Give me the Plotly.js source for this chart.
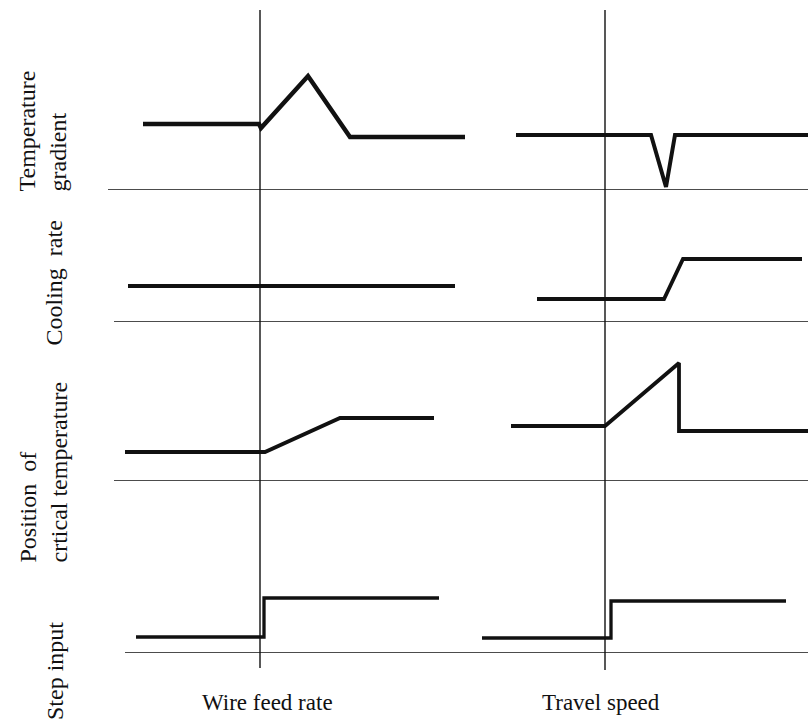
<!DOCTYPE html>
<html>
<head>
<meta charset="utf-8">
<script src="https://cdn.plot.ly/plotly-3.0.1.min.js"></script>
<style>
  html, body { margin: 0; padding: 0; background: #fff; }
  #chart { width: 808px; height: 723px; }
</style>
</head>
<body>
<div id="chart"></div>
<script>
// Step-response sketch: weld-pool responses to a step in wire feed rate (left)
// and in travel speed (right). Time is relative to the step (t = 0).

const inputNames = ["Wire feed rate", "Travel speed"];
const responseNames = [
  "Temperature<br>gradient",
  "Cooling&nbsp; rate",
  "Position&nbsp; of<br>crtical temperature",
  "Step input"
];

// Temperature gradient
const gradWireT = [-5.85, -0.05, 0.05, 2.4, 4.5, 10.25];
const gradWireV = [6.6, 6.6, 6.2, 11.4, 5.3, 5.3];
const gradTravT = [-4.45, 2.3, 3.05, 3.5, 10.15];
const gradTravV = [5.5, 5.5, 0.3, 5.5, 5.5];

// Cooling rate
const coolWireT = [-6.6, 9.75];
const coolWireV = [3.6, 3.6];
const coolTravT = [-3.4, 2.95, 3.9, 9.85];
const coolTravV = [2.3, 2.3, 6.3, 6.3];

// Position of critical temperature
const posWireT = [-6.75, 0.25, 4.0, 8.7];
const posWireV = [2.9, 2.9, 6.3, 6.3];
const posTravT = [-4.7, 0, 3.7, 3.7, 10.15];
const posTravV = [5.5, 5.5, 11.8, 5.0, 5.0];

// Step input
const stepWireT = [-6.2, 0.2, 0.2, 8.95];
const stepWireV = [1.6, 1.6, 5.5, 5.5];
const stepTravT = [-6.15, 0.3, 0.3, 9.05];
const stepTravV = [1.5, 1.5, 5.2, 5.2];

const W = 808, H = 723;
const px = v => v / W;          // horizontal pixel -> paper
const py = v => 1 - v / H;      // vertical pixel (from top) -> paper

const ink = "#111";

function curve(t, v, xa, ya, width) {
  return {
    x: t, y: v, xaxis: xa, yaxis: ya,
    type: "scatter", mode: "lines",
    line: { color: ink, width: width, shape: "linear" },
    hoverinfo: "skip", showlegend: false
  };
}

const data = [
  curve(gradWireT, gradWireV, "x", "y", 4.5),
  curve(gradTravT, gradTravV, "x2", "y", 4),
  curve(coolWireT, coolWireV, "x", "y2", 3.8),
  curve(coolTravT, coolTravV, "x2", "y2", 3.8),
  curve(posWireT, posWireV, "x", "y3", 3.8),
  curve(posTravT, posTravV, "x2", "y3", 3.8),
  curve(stepWireT, stepWireV, "x", "y4", 3.3),
  curve(stepTravT, stepTravV, "x2", "y4", 3.3)
];

const hidden = { visible: false, fixedrange: true };

const serif = "Liberation Serif";

const layout = {
  width: W, height: H,
  margin: { l: 0, r: 0, t: 0, b: 0 },
  paper_bgcolor: "#fff",
  plot_bgcolor: "rgba(0,0,0,0)",
  showlegend: false,
  font: { family: serif },
  xaxis:  Object.assign({ domain: [px(100), px(470)], range: [-8, 10.5] }, hidden),
  xaxis2: Object.assign({ domain: [px(475), 1], range: [-6.5, 10.15] }, hidden),
  yaxis:  Object.assign({ domain: [py(190), 1], range: [0, 19], anchor: "x" }, hidden),
  yaxis2: Object.assign({ domain: [py(322), py(190)], range: [0, 13.2], anchor: "x" }, hidden),
  yaxis3: Object.assign({ domain: [py(481), py(322)], range: [0, 15.9], anchor: "x" }, hidden),
  yaxis4: Object.assign({ domain: [py(653), py(481)], range: [0, 17.2], anchor: "x" }, hidden),
  shapes: [],
  annotations: []
};

// Row baselines (zero level of each response)
const baseStarts = [108, 114, 114, 125];
["y", "y2", "y3", "y4"].forEach((ya, i) => {
  layout.shapes.push({
    type: "line", xref: "paper", yref: ya,
    x0: px(baseStarts[i]), x1: 1, y0: 0, y1: 0,
    line: { color: ink, width: 1.4 }
  });
});

// Instant of the step in each column
[["x", 668], ["x2", 670]].forEach(([xa, bottom]) => {
  layout.shapes.push({
    type: "line", xref: xa, yref: "paper",
    x0: 0, x1: 0, y0: py(bottom), y1: py(10),
    line: { color: ink, width: 1.4 }
  });
});

// Row labels, rotated, bottom-aligned
const rowLabelX = [42, 53, 43, 55];
const rowLabelBottom = [193, 347, 564, 721];
responseNames.forEach((name, i) => {
  layout.annotations.push({
    text: name, xref: "paper", yref: "paper",
    x: px(rowLabelX[i]), y: py(rowLabelBottom[i]),
    xanchor: "center", yanchor: "bottom",
    textangle: -90, align: "left", showarrow: false,
    borderpad: 0,
    font: { family: serif, size: 24, color: ink }
  });
});

// Column labels
const colLabelX = [267, 601];
inputNames.forEach((name, i) => {
  layout.annotations.push({
    text: name, xref: "paper", yref: "paper",
    x: px(colLabelX[i]), y: py(702),
    xanchor: "center", yanchor: "middle",
    showarrow: false,
    font: { family: serif, size: 23, color: ink }
  });
});

Plotly.newPlot("chart", data, layout, { staticPlot: true, displayModeBar: false });
</script>
</body>
</html>
